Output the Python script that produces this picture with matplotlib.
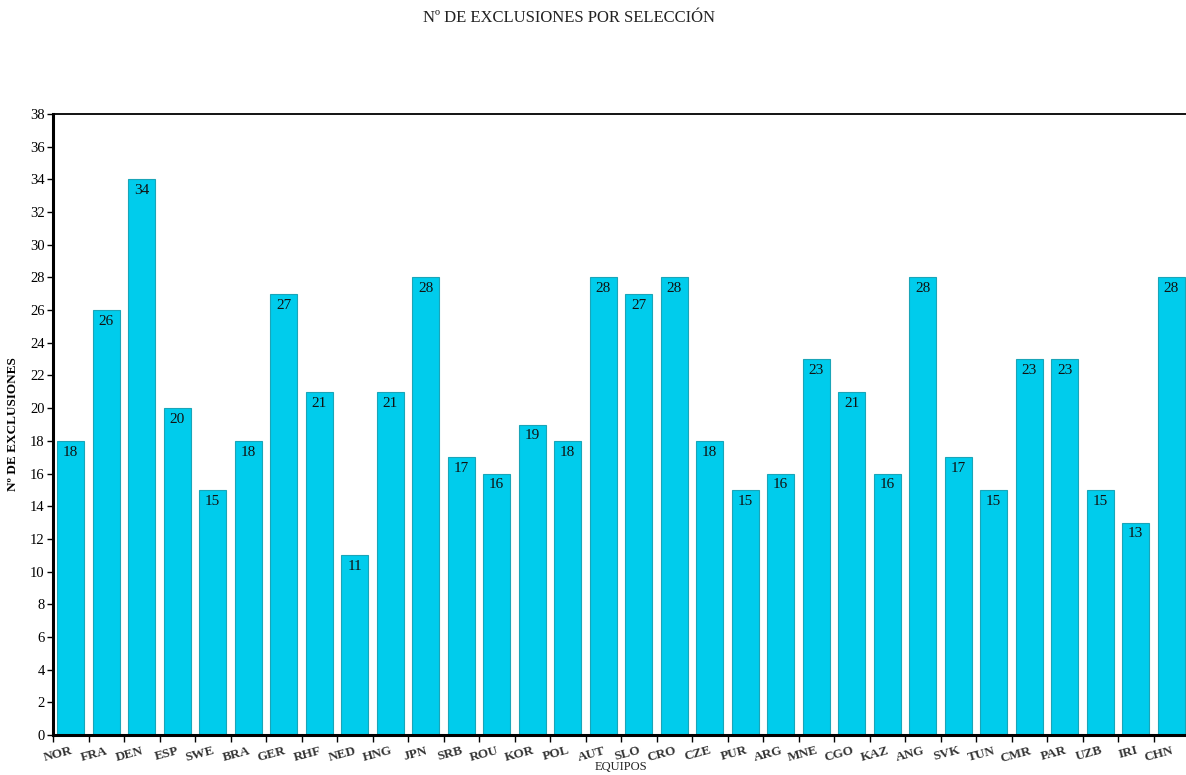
import matplotlib

matplotlib.use("Agg")
import matplotlib.pyplot as plt
import numpy as np

teams = ["NOR", "FRA", "DEN", "ESP", "SWE", "BRA", "GER", "RHF", "NED", "HNG", "JPN",
         "SRB", "ROU", "KOR", "POL", "AUT", "SLO", "CRO", "CZE", "PUR", "ARG", "MNE",
         "CGO", "KAZ", "ANG", "SVK", "TUN", "CMR", "PAR", "UZB", "IRI", "CHN"]
exclusions = [18, 26, 34, 20, 15, 18, 27, 21, 11, 21, 28,
              17, 16, 19, 18, 28, 27, 28, 18, 15, 16, 23,
              21, 16, 28, 17, 15, 23, 23, 15, 13, 28]
y_ticks = list(range(0, 39, 2))

plt.rcParams["font.family"] = ["Liberation Serif", "DejaVu Serif"]

W, H = 1186, 775
fig = plt.figure(figsize=(W / 100, H / 100), dpi=100)
# axes runs slightly past the right edge, like the original export
ax = fig.add_axes([53 / W, (H - 735) / H, (1189 - 53) / W, (735 - 114) / H])

x = np.arange(len(teams))
ax.bar(x, exclusions, width=0.76, color="#00CCEC", edgecolor="#1AA5B8", linewidth=0.8, zorder=2)
for xi, v in zip(x, exclusions):
    ax.text(xi, v - 0.3, str(v), ha="center", va="top", fontsize=11, color="#111111")

ax.set_xlim(-0.5, len(teams) - 0.5)
ax.set_ylim(0, 38)
ax.set_yticks(y_ticks)
ax.tick_params(axis="y", labelsize=10.5, length=4, width=1, direction="out", pad=2)

# ticks at category boundaries, labels at centres
ax.set_xticks(np.arange(len(teams) + 1) - 0.5)
ax.set_xticklabels([])
ax.set_xticks(x, minor=True)
ax.set_xticklabels(teams, minor=True, rotation=15, ha="right", rotation_mode="anchor",
                   fontsize=9.5, fontweight="bold", color="#333333")
ax.tick_params(axis="x", which="major", length=5, width=1)
ax.tick_params(axis="x", which="minor", length=0, pad=7)

ax.spines["right"].set_visible(False)
ax.spines["left"].set_linewidth(2.2)
ax.spines["bottom"].set_linewidth(2.2)
ax.spines["top"].set_linewidth(1.3)

ax.set_ylabel("Nº DE EXCLUSIONES", fontsize=9.5, fontweight="bold", labelpad=8)
fig.text(621 / W, 1 - 767 / H, "EQUIPOS", ha="center", va="center", fontsize=9, color="#222222")
fig.text(569 / W, 1 - 18 / H, "Nº DE EXCLUSIONES POR SELECCIÓN", ha="center", va="center",
         fontsize=12, color="#222222")

fig.savefig("out.png", dpi=100)
